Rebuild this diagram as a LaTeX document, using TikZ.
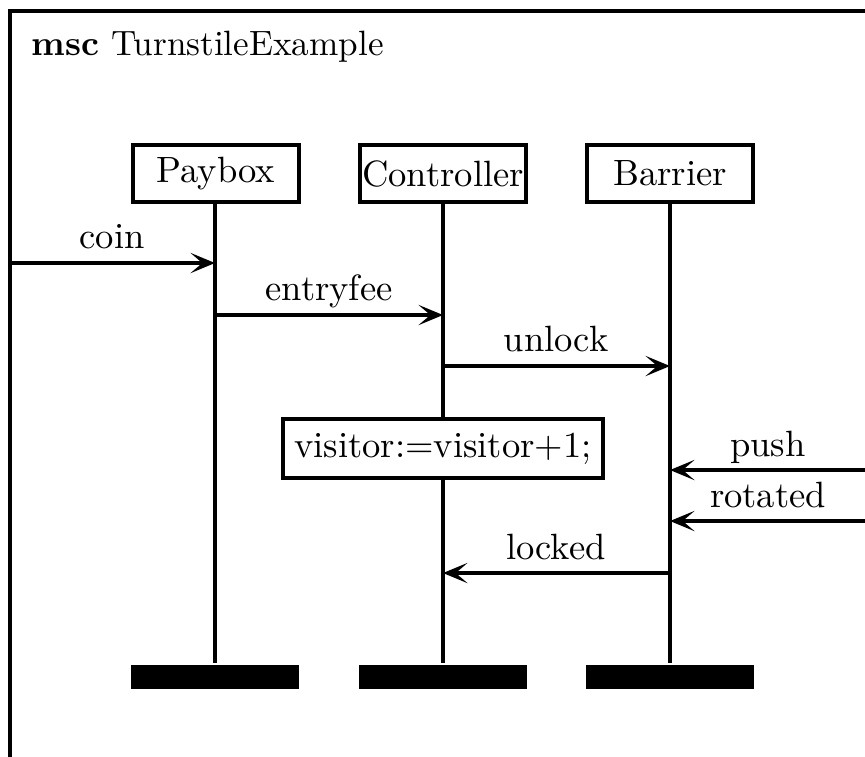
\documentclass[tikz,border=0pt]{standalone}
\usetikzlibrary{arrows.meta}
\begin{document}
\begin{tikzpicture}[x=0.01cm,y=-0.01cm,
  line width=1.1pt,
  every node/.style={font=\fontsize{10.4pt}{12.5pt}\selectfont},
  inst/.style={draw,rectangle,minimum width=1.66cm,minimum height=0.57cm,inner sep=0pt},
  instend/.style={fill=black,draw=none,rectangle,minimum width=1.68cm,minimum height=0.24cm,inner sep=0pt},
  action/.style={draw,rectangle,fill=white,minimum height=0.59cm,inner xsep=3.2pt,inner ysep=0pt},
  msg/.style={-{Stealth[length=7pt,width=5.8pt,inset=3.4pt,line width=0.5pt]}},
  msglabel/.style={anchor=base,inner sep=0pt}]
  \useasboundingbox (0,0) rectangle (865,756);
  \clip (0,0) rectangle (865,756);

  % diagram frame and title
  \draw (10,11) rectangle (868,800);
  \node[anchor=base west,inner sep=0pt,font=\fontsize{10pt}{12pt}\selectfont] (title) at (30,55) {\textbf{msc} TurnstileExample};

  % instance heads
  \node[inst] (pay)  at (216,173.5) {Paybox};
  \node[inst] (ctrl) at (443,173.5) {Controller};
  \node[inst] (bar)  at (670,173.5) {Barrier};

  % instance ends
  \node[instend] (payend)  at (215,677) {};
  \node[instend] (ctrlend) at (443,677) {};
  \node[instend] (barend)  at (670,677) {};

  % lifelines
  \draw (pay.south -| payend.north)  -- (payend.north);
  \draw (ctrl.south -| ctrlend.north) -- (ctrlend.north);
  \draw (bar.south -| barend.north)  -- (barend.north);

  % message end points
  \coordinate (env-l) at (10,263);
  \coordinate (pay-coin) at (215,263);
  \coordinate (pay-fee) at (215,315);
  \coordinate (ctrl-fee) at (443,315);
  \coordinate (ctrl-unlock) at (443,366);
  \coordinate (bar-unlock) at (670,366);
  \coordinate (env-push) at (868,470);
  \coordinate (bar-push) at (670,470);
  \coordinate (env-rot) at (868,521);
  \coordinate (bar-rot) at (670,521);
  \coordinate (bar-locked) at (670,573);
  \coordinate (ctrl-locked) at (443,573);

  % messages
  \draw[msg] (env-l) -- (pay-coin);
  \node[msglabel] (coin) at (112,248) {coin};
  \draw[msg] (pay-fee) -- (ctrl-fee);
  \node[msglabel] (fee) at (329,300) {entryfee};
  \draw[msg] (ctrl-unlock) -- (bar-unlock);
  \node[msglabel] (unlock) at (556,351) {unlock};
  \draw[msg] (env-push) -- (bar-push);
  \node[msglabel] (push) at (768,456) {push};
  \draw[msg] (env-rot) -- (bar-rot);
  \node[msglabel] (rot) at (768,507) {rotated};
  \draw[msg] (bar-locked) -- (ctrl-locked);
  \node[msglabel] (locked) at (556,559) {locked};

  % local action on the controller
  \node[action] (act) at (443,448.5) {visitor:=visitor+1;};
\end{tikzpicture}
\end{document}
